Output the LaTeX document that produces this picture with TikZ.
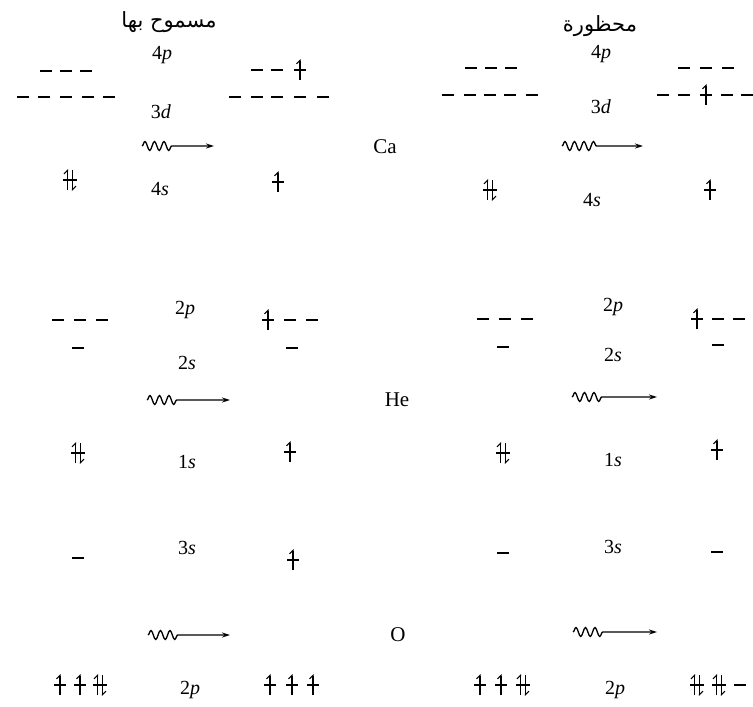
\documentclass[tikz,border=0pt]{standalone}
\usepackage{fontspec}
\setmainfont{Liberation Serif}
\newfontfamily\arabicfont[Script=Arabic]{DejaVu Sans}
\TeXXeTstate=1
\usetikzlibrary{arrows.meta,decorations.pathmorphing}
\tikzset{
	level/.style={line width=1.5pt},
	spin/.style={line width=1.1pt, -{Straight Barb[harpoon,length=3.5pt,width=7pt]}},
	shell/.style={font=\fontsize{20}{22}\selectfont, inner sep=0pt},
	atom/.style={font=\fontsize{21}{23}\selectfont, inner sep=0pt},
	title/.style={font=\arabicfont\fontsize{21}{24}\selectfont, inner sep=0pt},
	photon/.style={line width=1.3pt, -{Stealth[length=8pt,width=5pt]}},
	wave/.style={decoration={snake, amplitude=4.5pt, segment length=9.5pt}},
	vacant/.pic={\draw[level] (-6,0) -- (6,0);},
	single/.pic={\draw[level] (-6,0) -- (6,0); \draw[spin] (0,10) -- (0,-11);},
	paired/.pic={\draw[level] (-7,0) -- (7,0); \draw[spin] (-2.5,10) -- (-2.5,-11); \draw[spin] (2.5,-10) -- (2.5,11);}
}

\begin{document}
\begin{tikzpicture}[x=1pt, y=-1pt]
	\useasboundingbox (0,0) rectangle (753,707);
	% titles
	\node[title] (allowed) at (169,22) {\beginR مسموح بها\endR};
	\node[title] (forbidden) at (600,26) {\beginR محظورة\endR};
	% Ca
	\node[atom] (ca) at (385,147) {Ca};
	\node[shell] (caL4p) at (162,55) {4\textit{p}};
	\node[shell] (caL3d) at (161,112) {3\textit{d}};
	\node[shell] (caL4s) at (160,189) {4\textit{s}};
	\node[shell] (caR4p) at (601,54) {4\textit{p}};
	\node[shell] (caR3d) at (601,107) {3\textit{d}};
	\node[shell] (caR4s) at (592,200) {4\textit{s}};
	\foreach \x in {46,66,86} \pic at (\x,71) {vacant};
	\foreach \x in {23,44,66,88,109} \pic at (\x,97) {vacant};
	\pic at (70,180) {paired};
	\foreach \x in {257,277} \pic at (\x,70) {vacant};
	\pic at (300,70) {single};
	\foreach \x in {235,257,277,300,323} \pic at (\x,97) {vacant};
	\pic at (278,182) {single};
	\foreach \x in {471,491,511} \pic at (\x,68) {vacant};
	\foreach \x in {448,470,490,510,532} \pic at (\x,95) {vacant};
	\pic at (490,190) {paired};
	\foreach \x in {684,706,728} \pic at (\x,68) {vacant};
	\foreach \x in {663,684,727,747} \pic at (\x,95) {vacant};
	\pic at (706,95) {single};
	\pic at (710,190) {single};
	\coordinate (caLa) at (142,146); \coordinate (caLb) at (176,146); \coordinate (caLc) at (214,146);
	\coordinate (caRa) at (562,146); \coordinate (caRb) at (597,146); \coordinate (caRc) at (643,146);
	\draw[photon] (caLa) decorate[wave] {-- (caLb)} -- (caLc);
	\draw[photon] (caRa) decorate[wave] {-- (caRb)} -- (caRc);
	% He
	\node[atom] (he) at (397,400) {He};
	\node[shell] (heL2p) at (185,310) {2\textit{p}};
	\node[shell] (heL2s) at (187,363) {2\textit{s}};
	\node[shell] (heL1s) at (187,462) {1\textit{s}};
	\node[shell] (heR2p) at (613,307) {2\textit{p}};
	\node[shell] (heR2s) at (613,355) {2\textit{s}};
	\node[shell] (heR1s) at (613,460) {1\textit{s}};
	\foreach \x in {58,80,102} \pic at (\x,320) {vacant};
	\pic at (78,348) {vacant};
	\pic at (78,453) {paired};
	\pic at (268,320) {single};
	\foreach \x in {290,312} \pic at (\x,320) {vacant};
	\pic at (292,348) {vacant};
	\pic at (290,452) {single};
	\foreach \x in {483,505,527} \pic at (\x,319) {vacant};
	\pic at (503,347) {vacant};
	\pic at (503,453) {paired};
	\pic at (697,319) {single};
	\foreach \x in {718,739} \pic at (\x,319) {vacant};
	\pic at (718,345) {vacant};
	\pic at (717,450) {single};
	\coordinate (heLa) at (147,400); \coordinate (heLb) at (181,400); \coordinate (heLc) at (230,400);
	\coordinate (heRa) at (572,397); \coordinate (heRb) at (606,397); \coordinate (heRc) at (657,397);
	\draw[photon] (heLa) decorate[wave] {-- (heLb)} -- (heLc);
	\draw[photon] (heRa) decorate[wave] {-- (heRb)} -- (heRc);
	% O
	\node[atom] (ox) at (398,635) {O};
	\node[shell] (oxL3s) at (187,548) {3\textit{s}};
	\node[shell] (oxL2p) at (190,690) {2\textit{p}};
	\node[shell] (oxR3s) at (613,547) {3\textit{s}};
	\node[shell] (oxR2p) at (615,690) {2\textit{p}};
	\pic at (78,558) {vacant};
	\foreach \x in {60,80} \pic at (\x,685) {single};
	\pic at (100,685) {paired};
	\pic at (293,560) {single};
	\foreach \x in {270,292,313} \pic at (\x,685) {single};
	\pic at (503,553) {vacant};
	\foreach \x in {480,501} \pic at (\x,685) {single};
	\pic at (523,685) {paired};
	\pic at (717,552) {vacant};
	\foreach \x in {697,719} \pic at (\x,685) {paired};
	\pic at (740,685) {vacant};
	\coordinate (oxLa) at (148,635); \coordinate (oxLb) at (181,635); \coordinate (oxLc) at (230,635);
	\coordinate (oxRa) at (573,632); \coordinate (oxRb) at (607,632); \coordinate (oxRc) at (657,632);
	\draw[photon] (oxLa) decorate[wave] {-- (oxLb)} -- (oxLc);
	\draw[photon] (oxRa) decorate[wave] {-- (oxRb)} -- (oxRc);
\end{tikzpicture}
\end{document}
